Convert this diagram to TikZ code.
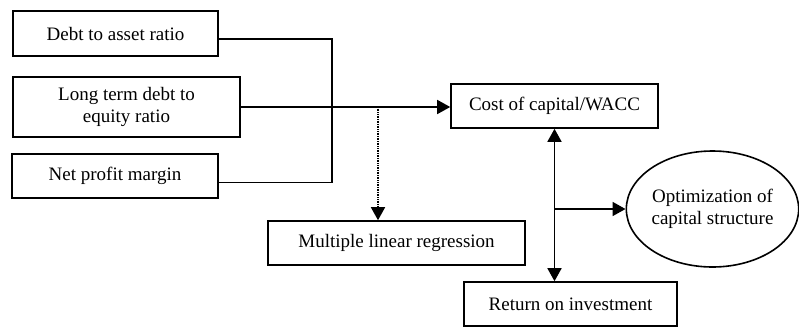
\documentclass[tikz,border=0pt]{standalone}
\usepackage{fontspec}
\setmainfont{Liberation Serif}
\usetikzlibrary{arrows.meta,shapes.geometric}
\begin{document}
\begin{tikzpicture}[x=1pt,y=-1pt,
  box/.style={draw,line width=1.6pt,rectangle,inner sep=0pt,align=center,
    font=\fontsize{19}{22.5}\selectfont},
  ell/.style={draw,line width=1.6pt,ellipse,inner sep=0pt,align=center,
    font=\fontsize{19}{22.5}\selectfont},
  conn/.style={line width=1.6pt},
  tip/.style={-{Triangle[length=13pt,width=14pt]}},
  dtip/.style={{Triangle[length=13pt,width=14pt]}-{Triangle[length=13pt,width=14pt]}},
  dots/.style={line width=2.2pt,dash pattern=on 0.9pt off 0.8pt}]
\useasboundingbox (0,0) rectangle (799,327);
\node[box,minimum width=205pt,minimum height=45pt] (b1) at (115.5,33.5) {Debt to asset ratio};
\node[box,minimum width=227pt,minimum height=60pt] (b2) at (126.5,107) {Long term debt to\\equity ratio};
\node[box,minimum width=206pt,minimum height=44pt] (b3) at (115,176) {Net profit margin};
\node[box,minimum width=207pt,minimum height=44pt] (cost) at (554.5,106) {Cost of capital/WACC};
\node[box,minimum width=257pt,minimum height=44pt] (mlr) at (396.5,243) {Multiple linear regression};
\node[box,minimum width=213pt,minimum height=44pt] (ret) at (570.5,304) {Return on investment};
\node[ell,minimum width=170pt,minimum height=116pt] (opt) at (712.5,209) {Optimization of\\capital structure};
\coordinate (j) at (332,107);
\coordinate (d) at (378,107);
\draw[conn] ([yshift=-5.5pt]b1.east) -| (j);
\draw[conn] ([yshift=-6.5pt]b3.east) -| (j);
\draw[conn,tip] (b2.east) -- (b2.east -| cost.west);
\draw[dots] (d) -- ([yshift=12pt]d |- mlr.north);
\draw[conn,tip] ([yshift=12pt]d |- mlr.north) -- (d |- mlr.north);
\draw[conn,dtip] (cost.south) -- (cost.south |- ret.north);
\coordinate (h) at (cost.south |- opt.west);
\draw[conn,tip] (h) -- (opt.west);
\end{tikzpicture}
\end{document}
